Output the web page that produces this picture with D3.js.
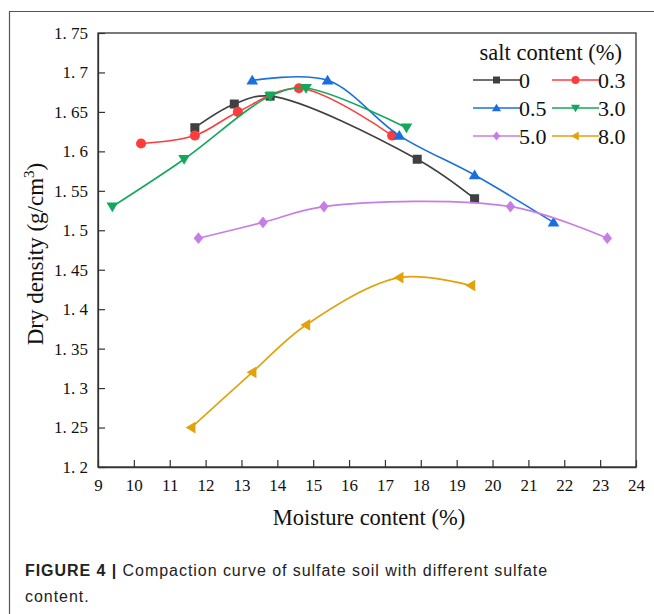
<!DOCTYPE html>
<html>
<head>
<meta charset="utf-8">
<script src="https://d3js.org/d3.v7.min.js"></script>
<style>
  body { margin: 0; background: #fff; }
  svg text { font-family: "Liberation Serif", "Times New Roman", serif; fill: #111; }
  .cap { font-family: "Liberation Sans", Arial, sans-serif; font-size: 16px; letter-spacing: 0.95px; fill: #222; }
</style>
</head>
<body>
<div id="viz"></div>
<script>
// series data: moisture content (%) vs dry density (g/cm3)
var saltLevels = ["0", "0.3", "0.5", "3.0", "5.0", "8.0"];
var colors = ["#404040", "#ff3c3c", "#1a6fe0", "#13a85c", "#c77de6", "#e3a10a"];
var symbols = ["square", "circle", "up", "down", "diamond", "left"];

var moist0  = [11.7, 12.8, 13.8, 17.9, 19.5];
var dens0   = [1.63, 1.66, 1.67, 1.59, 1.54];
var moist03 = [10.2, 11.7, 12.9, 14.6, 17.2];
var dens03  = [1.61, 1.62, 1.65, 1.68, 1.62];
var moist05 = [13.3, 15.4, 17.4, 19.5, 21.7];
var dens05  = [1.69, 1.69, 1.62, 1.57, 1.51];
var moist3  = [9.4, 11.4, 13.8, 14.8, 17.6];
var dens3   = [1.53, 1.59, 1.67, 1.68, 1.63];
var moist5  = [11.8, 13.6, 15.3, 20.5, 23.2];
var dens5   = [1.49, 1.51, 1.53, 1.53, 1.49];
var moist8  = [11.6, 13.3, 14.8, 17.4, 19.4];
var dens8   = [1.25, 1.32, 1.38, 1.44, 1.43];

var xTicks = d3.range(9, 25, 1);
var yTicks = [1.2, 1.25, 1.3, 1.35, 1.4, 1.45, 1.5, 1.55, 1.6, 1.65, 1.7, 1.75];

var allX = [moist0, moist03, moist05, moist3, moist5, moist8];
var allY = [dens0, dens03, dens05, dens3, dens5, dens8];

var W = 654, H = 614;
var pL = 98, pR = 636, pT = 33, pB = 467;

var svg = d3.select("#viz").append("svg")
    .attr("width", W)
    .attr("height", H);

// figure frame (top & left edges)
svg.append("path")
    .attr("d", "M9.5,614V11.5H654")
    .attr("fill", "none")
    .attr("stroke", "#555")
    .attr("stroke-width", 1.2);

var x = d3.scaleLinear().domain([9, 24]).range([pL, pR]);
var y = d3.scaleLinear().domain([1.2, 1.75]).range([pB, pT]);

// plot box
svg.append("rect")
    .attr("x", pL).attr("y", pT)
    .attr("width", pR - pL).attr("height", pB - pT)
    .attr("fill", "none")
    .attr("stroke", "#333")
    .attr("stroke-width", 1.3);

function fmtY(d) {
    var s = d3.format(".2~f")(d);
    return s.replace(".", ". ");
}

var xAxis = svg.append("g")
    .attr("transform", "translate(0," + pB + ")")
    .call(d3.axisBottom(x).tickValues(xTicks).tickSizeInner(-7).tickSizeOuter(0).tickPadding(12));
var yAxis = svg.append("g")
    .attr("transform", "translate(" + pL + ",0)")
    .call(d3.axisLeft(y).tickValues(yTicks).tickFormat(fmtY).tickSizeInner(-7).tickSizeOuter(0).tickPadding(10));

[xAxis, yAxis].forEach(function(a) {
    a.select(".domain").attr("stroke", "#333").attr("stroke-width", 1.3);
    a.selectAll(".tick line").attr("stroke", "#333").attr("stroke-width", 1.2);
    a.selectAll(".tick text").attr("font-family", "Liberation Serif, serif")
        .attr("font-size", 17).attr("fill", "#222");
});

// axis titles
svg.append("text")
    .attr("x", (pL + pR) / 2 + 2).attr("y", 525)
    .attr("text-anchor", "middle")
    .attr("font-size", 22.5)
    .text("Moisture content (%)");

var yl = svg.append("text")
    .attr("transform", "translate(43," + ((pT + pB) / 2 + 4) + ") rotate(-90)")
    .attr("text-anchor", "middle")
    .attr("font-size", 23);
yl.append("tspan").text("Dry density (g/cm");
yl.append("tspan").attr("font-size", 15).attr("dy", -9).text("3");
yl.append("tspan").attr("dy", 9).text(")");

// markers
function drawMarker(g, type, cx, cy, s, col) {
    var p;
    if (type == "square") {
        p = g.append("rect").attr("x", cx - s * 0.5).attr("y", cy - s * 0.5)
            .attr("width", s).attr("height", s);
    } else if (type == "circle") {
        p = g.append("circle").attr("cx", cx).attr("cy", cy).attr("r", s * 0.56);
    } else {
        var pts;
        var h = s * 0.62;
        if (type == "up") pts = [[0, -h], [h * 1.05, h * 0.75], [-h * 1.05, h * 0.75]];
        else if (type == "down") pts = [[0, h], [h * 1.05, -h * 0.75], [-h * 1.05, -h * 0.75]];
        else if (type == "left") pts = [[-h, 0], [h * 0.75, -h * 1.05], [h * 0.75, h * 1.05]];
        else pts = [[0, -h * 1.05], [h * 0.85, 0], [0, h * 1.05], [-h * 0.85, 0]];
        p = g.append("polygon").attr("points", pts.map(function(q) {
            return (cx + q[0]) + "," + (cy + q[1]);
        }).join(" "));
    }
    p.attr("fill", col);
}

var line = d3.line()
    .x(function(d) { return x(d[0]); })
    .y(function(d) { return y(d[1]); })
    .curve(d3.curveCatmullRom.alpha(0.5));

saltLevels.forEach(function(lv, i) {
    var pts = allX[i].map(function(v, j) { return [v, allY[i][j]]; });
    var g = svg.append("g");
    g.append("path")
        .attr("d", line(pts))
        .attr("fill", "none")
        .attr("stroke", colors[i])
        .attr("stroke-width", 1.6);
    pts.forEach(function(d) {
        drawMarker(g, symbols[i], x(d[0]), y(d[1]), 9, colors[i]);
    });
});

// legend
svg.append("text")
    .attr("x", 622).attr("y", 60)
    .attr("text-anchor", "end")
    .attr("font-size", 22.5)
    .text("salt content (%)");

var legX = [473, 552], legY = [80, 108, 136];
saltLevels.forEach(function(lv, i) {
    var lx = legX[i % 2], ly = legY[Math.floor(i / 2)];
    var g = svg.append("g");
    g.append("line")
        .attr("x1", lx).attr("x2", lx + 47)
        .attr("y1", ly).attr("y2", ly)
        .attr("stroke", colors[i]).attr("stroke-width", 1.6);
    drawMarker(g, symbols[i], lx + 23.5, ly, 7, colors[i]);
    g.append("text")
        .attr("x", lx + 46).attr("y", ly + 8)
        .attr("font-size", 22)
        .text(lv);
});

// caption
var cap = svg.append("text").attr("class", "cap").attr("x", 25).attr("y", 576);
cap.append("tspan").attr("font-weight", "bold").text("FIGURE 4 | ");
cap.append("tspan").text("Compaction curve of sulfate soil with different sulfate");
svg.append("text").attr("class", "cap").attr("x", 25).attr("y", 602).text("content.");
</script>
</body>
</html>
